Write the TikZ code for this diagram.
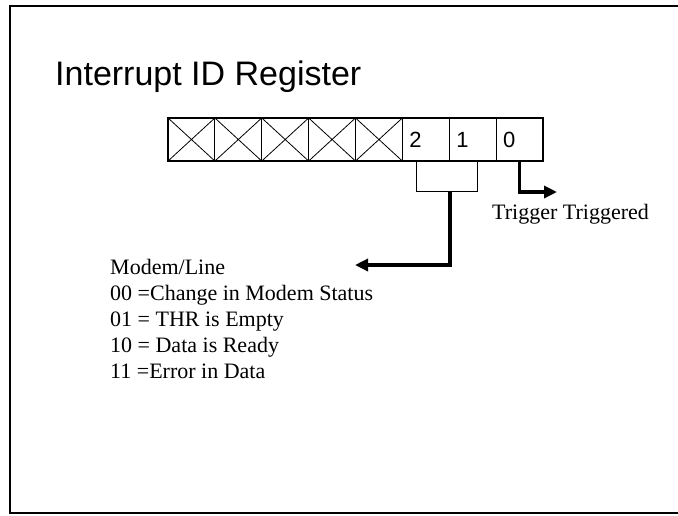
\documentclass[tikz,border=0pt]{standalone}
\usepackage{fontspec}
\setmainfont{Liberation Serif}
\newfontfamily\arialfont{Liberation Sans}
\usetikzlibrary{arrows.meta,positioning}

\begin{document}
\begin{tikzpicture}[x=1pt, y=-1pt,
        cell/.style={draw, line width=1.1pt, minimum width=46.875pt, minimum height=43pt,
                     inner xsep=7pt, text width=32.875pt, align=left,
                     font=\arialfont\fontsize{22}{26}\selectfont},
        ttl/.style={anchor=base west, inner sep=0pt, font=\arialfont\fontsize{34}{40}\selectfont},
        note/.style={inner sep=0pt, align=left, font=\fontsize{22}{26}\selectfont},
        thin/.style={line width=1pt},
        arr/.style={-{Triangle[length=13pt,width=12pt]}, line width=3.5pt}
    ]
        \useasboundingbox (0,0) rectangle (678,515);

        % ── Slide frame (open on the right) ──────────────────────────────
        \draw[line width=1.8pt] (678,6) -- (10,6) -- (10,513) -- (678,513);

        % ── Title ────────────────────────────────────────────────────────
        \node[ttl] (title) at (55,85) {Interrupt ID Register};

        % ── Register cells, bit 7 on the left, bit 0 on the right ────────
        \foreach \i in {0,...,7} {
            \pgfmathtruncatemacro\b{7-\i}
            \node[cell] (b\b) at ({191.44+46.875*\i},139.5) {\ifnum\b<3 \b\fi};
            \ifnum\b>2
                \draw[line width=0.8pt] (b\b.north west) -- (b\b.south east)
                                        (b\b.south west) -- (b\b.north east);
            \fi
        }

        % ── Bits 2..1 : bracket and arrow to the modem/line note ─────────
        \draw[thin] ([xshift=-9pt]b2.south) -- ++(0,30) -| ([xshift=5pt]b1.south);
        \coordinate (brk)  at (b2.south east |- 0,191);
        \node[note, anchor=north west] (modem) at (110,259)
            {Modem/Line\\
             00 =Change in Modem Status\\
             01 = THR is Empty\\
             10 = Data is Ready\\
             11 =Error in Data};
        \coordinate (mtip) at (355,265);
        \draw[arr] (brk) |- (mtip);

        % ── Bit 0 : trigger arrow ────────────────────────────────────────
        \coordinate (ttip) at (557,192);
        \draw[arr] (b0.south) |- (ttip);
        \node[note, anchor=base west] (trig) at (492,219) {Trigger Triggered};

    \end{tikzpicture}
\end{document}
